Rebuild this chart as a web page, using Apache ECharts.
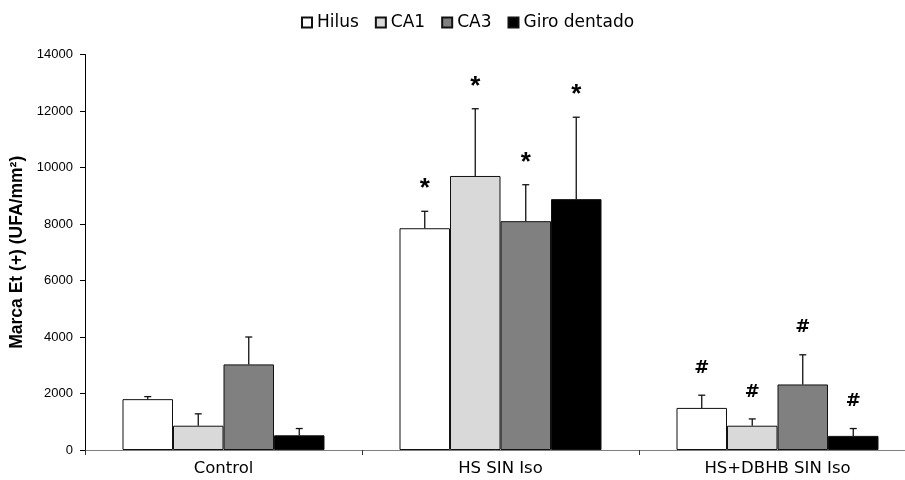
<!DOCTYPE html>
<html>
<head>
<meta charset="utf-8">
</head>
<body style="margin: 0; background: #fff">
<div id="container" style="width: 905px; height: 480px"></div>
<script src="https://cdn.jsdelivr.net/npm/echarts@6.0.0/dist/echarts.min.js"></script>
<script type="text/javascript">
    // data
    var categories = ['Control', 'HS SIN Iso', 'HS+DBHB SIN Iso'];
    var seriesNames = ['Hilus', 'CA1', 'CA3', 'Giro dentado'];
    var hilus = [1800, 7850, 1490];
    var ca1 = [860, 9700, 860];
    var ca3 = [3030, 8100, 2320];
    var giro = [520, 8880, 500];
    var hilusErr = [90, 600, 450];
    var ca1Err = [420, 2380, 240];
    var ca3Err = [970, 1290, 1050];
    var giroErr = [240, 2900, 260];
    var hilusMarks = ['', '*', '#'];
    var ca1Marks = ['', '*', '#'];
    var ca3Marks = ['', '*', '#'];
    var giroMarks = ['', '*', '#'];

    var values = [hilus, ca1, ca3, giro];
    var errs = [hilusErr, ca1Err, ca3Err, giroErr];
    var marks = [hilusMarks, ca1Marks, ca3Marks, giroMarks];
    var colors = ['#ffffff', '#d9d9d9', '#808080', '#000000'];
    var font = 'Liberation Sans, Arial, sans-serif';
    var wideFont = 'DejaVu Sans, sans-serif';
    var barW = 50.5;

    var errData = [];
    for (var s = 0; s < 4; s++) {
        for (var c = 0; c < categories.length; c++) {
            errData.push([c, values[s][c], errs[s][c], s]);
        }
    }

    var series = seriesNames.map(function (name, i) {
        return {
            name: name,
            type: 'bar',
            data: values[i],
            barWidth: barW,
            barGap: 0,
            itemStyle: { color: colors[i], borderColor: '#111', borderWidth: 1 },
            emphasis: { disabled: true }
        };
    });

    series.push({
        type: 'custom',
        z: 5,
        data: errData,
        renderItem: function (params, api) {
            var c = api.value(0), v = api.value(1), e = api.value(2), s = api.value(3);
            var base = api.coord([c, v]);
            var top = api.coord([c, v + e]);
            var cx = base[0] + (s - 1.5) * barW;
            var children = [
                { type: 'line', shape: { x1: cx, y1: base[1], x2: cx, y2: top[1] }, style: { stroke: '#111', lineWidth: 1.3 } },
                { type: 'line', shape: { x1: cx - 3.5, y1: top[1], x2: cx + 3.5, y2: top[1] }, style: { stroke: '#111', lineWidth: 1.3 } }
            ];
            var m = marks[s][c];
            if (m) {
                var star = m === '*';
                children.push({
                    type: 'text',
                    style: {
                        text: m, x: cx, y: top[1] - 27 + (star ? 5 : 0),
                        align: 'center', verticalAlign: 'middle',
                        font: star ? 'bold 26px ' + font : 'bold 18px ' + wideFont,
                        fill: '#000'
                    }
                });
            }
            return { type: 'group', children: children };
        }
    });

    var myChart = echarts.init(document.getElementById('container'), null, { renderer: 'canvas' });
    var option = {
        animation: false,
        legend: {
            data: seriesNames,
            left: 296,
            top: 9,
            icon: 'rect',
            itemWidth: 10,
            itemHeight: 10,
            itemGap: 16,
            textStyle: { fontFamily: wideFont, fontSize: 17, color: '#000' }
        },
        grid: { left: 85, top: 54.5, width: 831, height: 395.5, outerBoundsMode: 'none' },
        xAxis: {
            type: 'category',
            data: categories,
            axisLine: { lineStyle: { color: '#808080', width: 1 } },
            axisTick: { show: true, alignWithLabel: false, length: 5, lineStyle: { color: '#333' } },
            axisLabel: { fontFamily: wideFont, fontSize: 16.5, color: '#000', margin: 10 }
        },
        yAxis: {
            type: 'value',
            min: 0,
            max: 14000,
            interval: 2000,
            name: 'Marca Et (+) (UFA/mm²)',
            nameLocation: 'middle',
            nameGap: 56,
            nameTextStyle: { fontFamily: font, fontSize: 17.5, fontWeight: 'bold', color: '#000' },
            axisLine: { show: true, lineStyle: { color: '#000', width: 1 } },
            axisTick: { show: true, length: 5, lineStyle: { color: '#000' } },
            splitLine: { show: false },
            axisLabel: {
                fontFamily: font, fontSize: 13, color: '#000', margin: 12,
                formatter: function (v) { return String(v); }
            }
        },
        series: series
    };
    myChart.setOption(option);
</script>
</body>
</html>
